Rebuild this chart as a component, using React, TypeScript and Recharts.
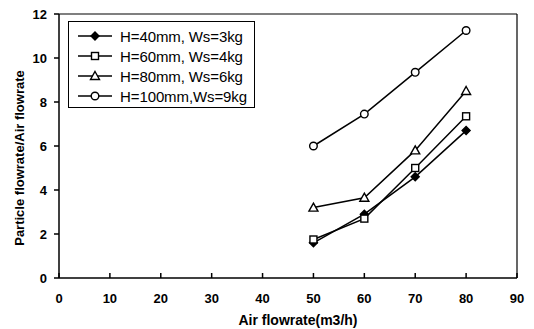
import { Label, Legend, Line, LineChart, ReferenceLine, XAxis, YAxis } from "recharts";

const airFlow = [50, 60, 70, 80];
const h40 = [1.6, 2.9, 4.6, 6.7];
const h60 = [1.75, 2.7, 5.0, 7.35];
const h80 = [3.2, 3.65, 5.8, 8.5];
const h100 = [6.0, 7.45, 9.35, 11.25];

const xTicks = [0, 10, 20, 30, 40, 50, 60, 70, 80, 90];
const yTicks = [0, 2, 4, 6, 8, 10, 12];

const seriesNames = ["H=40mm, Ws=3kg", "H=60mm, Ws=4kg", "H=80mm, Ws=6kg", "H=100mm,Ws=9kg"];
const seriesKeys = ["h40", "h60", "h80", "h100"];
const seriesShapes = ["diamond", "square", "triangle", "circle"];

const data = airFlow.map((x, i) => ({ x, h40: h40[i], h60: h60[i], h80: h80[i], h100: h100[i] }));

const FONT = "'Liberation Sans', Arial, sans-serif";

function Marker({ shape, cx, cy }: { shape: string; cx: number; cy: number }) {
  const s = { stroke: "#000", strokeWidth: 1.4 };
  if (shape === "diamond")
    return <polygon points={`${cx},${cy - 4} ${cx + 4},${cy} ${cx},${cy + 4} ${cx - 4},${cy}`} fill="#000" {...s} />;
  if (shape === "square") return <rect x={cx - 3.5} y={cy - 3.5} width={7} height={7} fill="#fff" {...s} />;
  if (shape === "triangle")
    return <polygon points={`${cx},${cy - 4.5} ${cx + 4.5},${cy + 3.5} ${cx - 4.5},${cy + 3.5}`} fill="#fff" {...s} />;
  return <circle cx={cx} cy={cy} r={3.8} fill="#fff" {...s} />;
}

function LegendBox() {
  return (
    <div style={{ border: "1px solid #000", background: "#fff", padding: "4px 0 0 0", boxSizing: "border-box", width: 187, height: 87 }}>
      {seriesNames.map((name, i) => (
        <div key={name} style={{ display: "flex", alignItems: "center", height: 20, fontFamily: FONT, fontSize: 15, color: "#000", whiteSpace: "nowrap" }}>
          <svg width={44} height={12} style={{ marginLeft: 6 }}>
            <line x1={3} y1={6} x2={37} y2={6} stroke="#000" strokeWidth={1.5} />
            <Marker shape={seriesShapes[i]} cx={20} cy={6} />
          </svg>
          <span style={{ marginLeft: 1, letterSpacing: -0.1 }}>{name}</span>
        </div>
      ))}
    </div>
  );
}

export default function App() {
  const tickStyle = { fill: "#000", fontSize: 13, fontWeight: 700, fontFamily: FONT };
  return (
    <div style={{ position: "absolute", left: 0, top: 0, background: "#fff" }}>
      <LineChart width={534} height={329} data={data} margin={{ top: 14, right: 17, bottom: 0, left: 0 }}>
        <XAxis
          dataKey="x"
          type="number"
          domain={[0, 90]}
          ticks={xTicks}
          height={51}
          stroke="#000"
          strokeWidth={1.5}
          tickSize={-5}
          tickMargin={21}
          tick={tickStyle}
        >
          <Label
            content={() => (
              <text x={298} y={325} textAnchor="middle" fontFamily={FONT} fontSize={14} fontWeight={700} fill="#000">
                Air flowrate(m3/h)
              </text>
            )}
          />
        </XAxis>
        <YAxis
          type="number"
          domain={[0, 12]}
          ticks={yTicks}
          width={59}
          stroke="#000"
          strokeWidth={1.5}
          tickSize={5}
          tickMargin={7}
          tick={tickStyle}
        >
          <Label
            content={() => (
              <text
                x={24}
                y={158}
                textAnchor="middle"
                transform="rotate(-90, 24, 158)"
                fontFamily={FONT}
                fontSize={13}
                fontWeight={700}
                fill="#000"
              >
                Particle flowrate/Air flowrate
              </text>
            )}
          />
        </YAxis>
        <ReferenceLine y={12} stroke="#000" strokeWidth={1.2} />
        <ReferenceLine x={90} stroke="#000" strokeWidth={1.2} />
        {seriesKeys.map((k, i) => (
          <Line
            key={k}
            dataKey={k}
            name={seriesNames[i]}
            stroke="#000"
            strokeWidth={1.5}
            isAnimationActive={false}
            dot={(p: any) => <Marker key={`${k}-${p.index}`} shape={seriesShapes[i]} cx={p.cx} cy={p.cy} />}
          />
        ))}
        <Legend
          layout="vertical"
          align="center"
          verticalAlign="middle"
          content={() => <LegendBox />}
          wrapperStyle={{ left: 68, top: 21, width: 187, height: 87 }}
        />
      </LineChart>
    </div>
  );
}
